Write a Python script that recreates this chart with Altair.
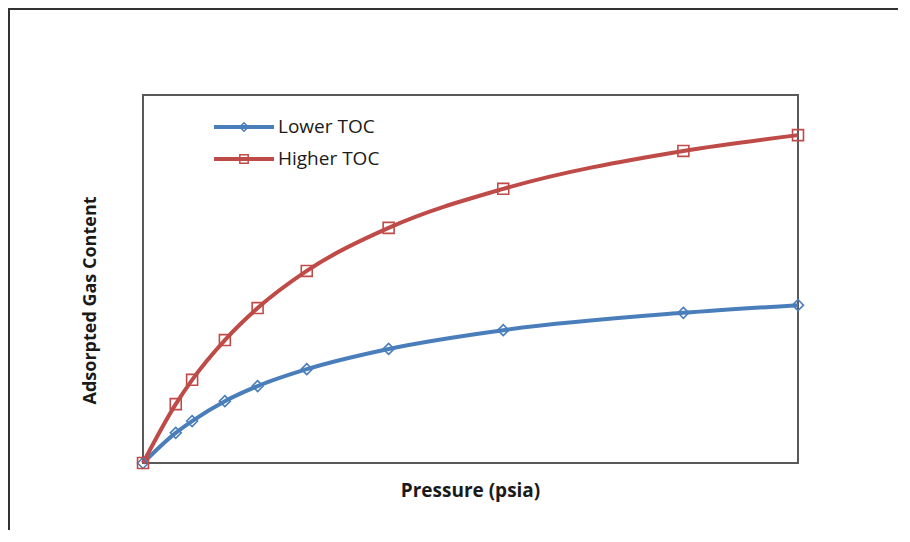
import altair as alt
import pandas as pd

pressure = [0, 100, 150, 250, 350, 500, 750, 1100, 1650, 2000]
lower_toc = [0, 8.2, 11.4, 16.8, 20.9, 25.5, 31.0, 36.1, 40.8, 42.9]
higher_toc = [0, 16.0, 22.6, 33.4, 42.1, 52.2, 63.9, 74.5, 84.8, 89.1]
series_names = ["Lower TOC", "Higher TOC"]
series_colors = ["#4A7EBB", "#BE4B48"]
series_shapes = ["diamond", "square"]

rows = []
for p, v in zip(pressure, lower_toc):
    rows.append({"pressure": p, "content": v, "series": "Lower TOC"})
for p, v in zip(pressure, higher_toc):
    rows.append({"pressure": p, "content": v, "series": "Higher TOC"})
df = pd.DataFrame(rows)
legend_df = pd.DataFrame({"series": series_names})

FONT = "Open Sans"
color_scale = alt.Scale(domain=series_names, range=series_colors)
shape_scale = alt.Scale(domain=series_names, range=series_shapes)

x_enc = alt.X("pressure:Q", scale=alt.Scale(domain=[0, 2000], nice=False),
              axis=alt.Axis(title="Pressure (psia)", labels=False, ticks=False, domain=False, grid=False,
                            titleFont=FONT, titleFontSize=19, titleFontWeight="bold", titleColor="#1a1a1a",
                            titleX=327, titleY=27, titleBaseline="middle", titleAlign="center"))
y_enc = alt.Y("content:Q", scale=alt.Scale(domain=[0, 100], nice=False),
              axis=alt.Axis(title="Adsorpted Gas Content", labels=False, ticks=False, domain=False, grid=False,
                            titleFont=FONT, titleFontSize=18, titleFontWeight="bold", titleColor="#1a1a1a",
                            titleX=-53, titleY=205, titleBaseline="middle", titleAlign="center", titleAngle=270))

lines = alt.Chart(df).mark_line(interpolate="monotone", strokeWidth=4).encode(
    x=x_enc, y=y_enc,
    color=alt.Color("series:N", scale=color_scale, legend=None),
    order=alt.Order("pressure:Q"),
    detail="series:N",
)
points = alt.Chart(df).mark_point(filled=False, strokeWidth=1.6, size=120, opacity=1).encode(
    x=alt.X("pressure:Q"), y=alt.Y("content:Q"),
    color=alt.Color("series:N", scale=color_scale, legend=None),
    shape=alt.Shape("series:N", scale=shape_scale, legend=None),
)
main = alt.layer(lines, points)

leg_y = alt.Y("series:N", scale=alt.Scale(type="point", domain=series_names, range=[32, 64], padding=0),
              axis=None)
leg_rule = alt.Chart(legend_df).mark_rule(strokeWidth=4).encode(
    x=alt.value(71), x2=alt.value(131), y=leg_y,
    color=alt.Color("series:N", scale=color_scale, legend=None),
)
leg_pt = alt.Chart(legend_df).mark_point(filled=False, strokeWidth=1.5, size=70, opacity=1).encode(
    x=alt.value(101), y=leg_y,
    color=alt.Color("series:N", scale=color_scale, legend=None),
    shape=alt.Shape("series:N", scale=shape_scale, legend=None),
)
leg_txt = alt.Chart(legend_df).mark_text(align="left", baseline="middle", font=FONT, fontSize=19,
                                         color="#1a1a1a").encode(
    x=alt.value(135), y=leg_y, text="series:N",
)
legend = alt.layer(leg_rule, leg_pt, leg_txt)

frame = alt.Chart(legend_df.head(1)).mark_rect(fill=None, stroke="#333333", strokeWidth=2).encode(
    x=alt.value(-134), x2=alt.value(820), y=alt.value(-86), y2=alt.value(560),
)

chart = alt.layer(frame, main, legend).resolve_scale(y="independent").properties(
    width=655, height=368,
    padding={"left": 135, "top": 87, "right": 100, "bottom": 67},
    autosize="none",
).configure_view(stroke="#595959", strokeWidth=2)

chart.save("out.html", embed_options={"renderer": "svg", "actions": False})
